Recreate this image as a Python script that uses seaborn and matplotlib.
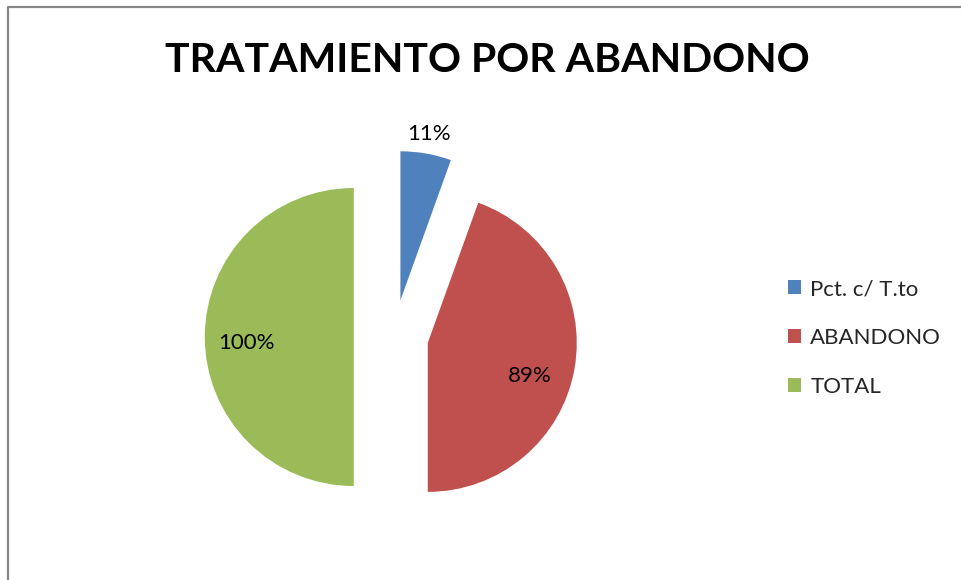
import numpy as np
import matplotlib
matplotlib.use("Agg")
import matplotlib.pyplot as plt
import seaborn as sns
from matplotlib.patches import Patch
from matplotlib.lines import Line2D

# Data
categories = ["Pct. c/ T.to", "ABANDONO", "TOTAL"]
values = [11, 89, 100]
pct_labels = ["11%", "89%", "100%"]
colors = ["#4F81BD", "#C0504D", "#9BBB59"]
explode = [0.25, 0.23, 0.27]
label_dist = [1.13, 0.72, 0.72]  # blue label sits outside the slice
label_rot = [0, -8, 3]           # small angular nudges of the labels (deg)

sns.set_theme(style="white")
plt.rcParams["font.family"] = ["Lato", "DejaVu Sans"]

fig = plt.figure(figsize=(9.61, 5.80), dpi=100)

# pie axes: centre at ~(394, 337) px, radius 149 px
W, H = 961, 580
half = 200
ax = fig.add_axes([(394 - half) / W, (H - 337 - half) / H, 2 * half / W, 2 * half / H])

wedges, _ = ax.pie(values, colors=colors, explode=explode, startangle=90,
                   counterclock=False, radius=1, wedgeprops=dict(linewidth=0))

# pie() resets the limits, so fix them afterwards
lim = half / 149
ax.set_xlim(-lim, lim)
ax.set_ylim(-lim, lim)
ax.set_aspect("equal")
ax.axis("off")

for w, lab, d, rot in zip(wedges, pct_labels, label_dist, label_rot):
    ang = np.deg2rad((w.theta1 + w.theta2) / 2 + rot)
    cx, cy = w.center
    ax.text(cx + d * np.cos(ang), cy + d * np.sin(ang), lab, ha="center", va="center",
            fontsize=16, color="black", clip_on=False)

fig.text(487 / W, 1 - 61 / H, "TRATAMIENTO POR ABANDONO", ha="center", va="center",
         fontsize=29.5, fontweight="bold", color="black")

handles = [Patch(facecolor=c, edgecolor="none") for c in colors]
fig.legend(handles, categories, loc="center left", bbox_to_anchor=(788 / W, 1 - 338 / H),
           frameon=False, fontsize=16, handlelength=0.6, handleheight=0.6,
           handletextpad=0.4, labelspacing=1.3, borderpad=0, borderaxespad=0)

# chart border (left and top edges visible)
fig.add_artist(Line2D([8 / W, 8 / W, 1.0], [0.0, 1 - 7 / H, 1 - 7 / H],
                      transform=fig.transFigure, color="#868686", linewidth=1.6))

fig.savefig("out.png", dpi=100, facecolor="white")
